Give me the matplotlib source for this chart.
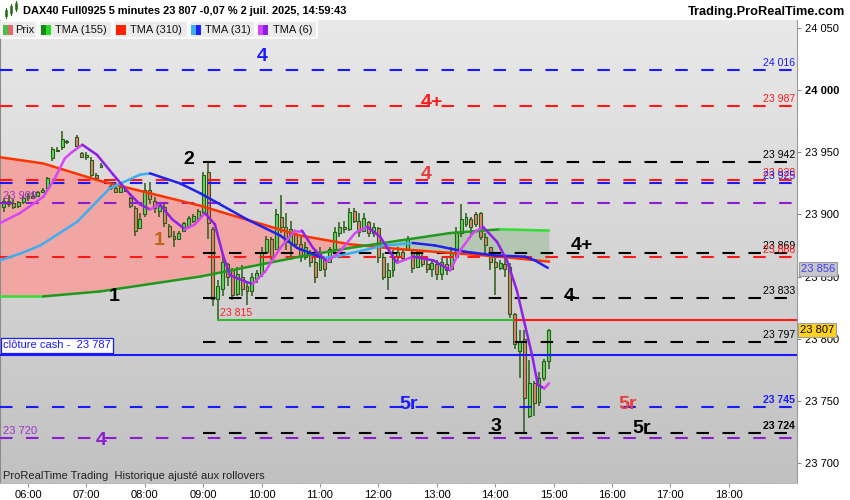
import numpy as np
import matplotlib
matplotlib.use('Agg')
import matplotlib.pyplot as plt
import matplotlib.transforms as mtransforms
from matplotlib.patches import Rectangle
from matplotlib.collections import LineCollection
from matplotlib.colors import LinearSegmentedColormap

plt.rcParams['font.family'] = ['Liberation Sans', 'DejaVu Sans']
plt.rcParams['lines.scale_dashes'] = False

# ---------------- data ----------------
bar_times = ["05:35", "05:40", "05:45", "05:50", "05:55", "06:00", "06:05", "06:10", "06:15", "06:20",
             "06:25", "06:30", "06:35", "06:40", "06:50", "06:55", "07:00", "07:05", "07:10", "07:15",
             "07:25", "07:30", "07:35", "07:40", "07:45", "07:50", "07:55", "08:00", "08:05", "08:10",
             "08:15", "08:20", "08:25", "08:30", "08:35", "08:40", "08:45", "08:50", "08:55", "09:00",
             "09:05", "09:10", "09:15", "09:20", "09:25", "09:30", "09:35", "09:40", "09:45", "09:50",
             "09:55", "10:00", "10:05", "10:10", "10:15", "10:20", "10:25", "10:30", "10:35", "10:40",
             "10:45", "10:50", "10:55", "11:00", "11:05", "11:10", "11:15", "11:20", "11:25", "11:30",
             "11:35", "11:40", "11:45", "11:50", "11:55", "12:00", "12:05", "12:10", "12:15", "12:20",
             "12:25", "12:30", "12:35", "12:40", "12:45", "12:50", "12:55", "13:00", "13:05", "13:10",
             "13:15", "13:20", "13:25", "13:30", "13:35", "13:40", "13:45", "13:50", "13:55", "14:00",
             "14:05", "14:10", "14:15", "14:20", "14:25", "14:30", "14:35", "14:40", "14:45", "14:50",
             "14:55"]
bar_open = [23906, 23911, 23909, 23907, 23910, 23913, 23915, 23915, 23918, 23921,
            23945, 23952, 23954, 23958, 23962, 23949, 23946, 23944, 23932, 23938,
            23923, 23921, 23918, 23920, 23913, 23905, 23889, 23900, 23920, 23911,
            23903, 23906, 23891, 23883, 23880, 23887, 23891, 23895, 23897, 23902,
            23934, 23888, 23832, 23840, 23860, 23855, 23836, 23850, 23842, 23838,
            23848, 23852, 23870, 23880, 23872, 23898, 23890, 23878, 23884, 23876,
            23866, 23870, 23862, 23855, 23866, 23862, 23872, 23885, 23890, 23888,
            23903, 23895, 23887, 23894, 23885, 23889, 23866, 23850, 23855, 23866,
            23870, 23872, 23870, 23858, 23866, 23860, 23856, 23860, 23852, 23860,
            23856, 23866, 23885, 23892, 23896, 23900, 23901, 23882, 23874, 23862,
            23857, 23860, 23858, 23820, 23790, 23800, 23738, 23764, 23749, 23768,
            23782]
bar_high = [23913, 23916, 23912, 23911, 23915, 23917, 23918, 23919, 23921, 23930,
            23954, 23954, 23967, 23960, 23964, 23950, 23950, 23946, 23933, 23941,
            23924, 23922, 23923, 23921, 23914, 23907, 23901, 23925, 23926, 23914,
            23909, 23908, 23892, 23887, 23887, 23894, 23899, 23900, 23904, 23934,
            23943, 23890, 23847, 23867, 23861, 23857, 23858, 23859, 23845, 23853,
            23855, 23874, 23883, 23882, 23904, 23916, 23901, 23895, 23885, 23882,
            23878, 23871, 23871, 23874, 23866, 23874, 23890, 23894, 23895, 23905,
            23905, 23901, 23901, 23895, 23893, 23890, 23869, 23861, 23871, 23874,
            23871, 23883, 23871, 23871, 23869, 23866, 23863, 23863, 23865, 23866,
            23874, 23890, 23908, 23901, 23898, 23902, 23902, 23885, 23874, 23869,
            23863, 23866, 23861, 23821, 23807, 23807, 23783, 23766, 23773, 23784,
            23808]
bar_low = [23902, 23906, 23904, 23905, 23908, 23911, 23912, 23914, 23917, 23920,
           23943, 23950, 23952, 23957, 23954, 23945, 23944, 23930, 23927, 23937,
           23920, 23917, 23917, 23918, 23905, 23883, 23888, 23898, 23908, 23901,
           23898, 23890, 23881, 23874, 23879, 23886, 23889, 23893, 23895, 23900,
           23880, 23826, 23815, 23834, 23842, 23831, 23834, 23834, 23827, 23834,
           23845, 23850, 23869, 23863, 23871, 23885, 23871, 23863, 23874, 23862,
           23863, 23858, 23845, 23855, 23850, 23862, 23871, 23882, 23885, 23887,
           23893, 23882, 23887, 23882, 23882, 23861, 23847, 23839, 23850, 23861,
           23863, 23871, 23853, 23858, 23858, 23853, 23850, 23847, 23847, 23851,
           23855, 23863, 23882, 23890, 23882, 23890, 23879, 23869, 23855, 23835,
           23855, 23850, 23817, 23792, 23768, 23724, 23736, 23738, 23746, 23766,
           23776]
bar_close = [23911, 23908, 23906, 23910, 23913, 23915, 23913, 23918, 23920, 23929,
             23953, 23951, 23961, 23959, 23955, 23946, 23948, 23932, 23929, 23940,
             23921, 23918, 23922, 23919, 23907, 23887, 23896, 23920, 23912, 23905,
             23907, 23893, 23883, 23880, 23885, 23893, 23897, 23899, 23903, 23932,
             23893, 23832, 23842, 23862, 23850, 23835, 23852, 23840, 23838, 23850,
             23853, 23870, 23880, 23866, 23900, 23890, 23878, 23888, 23876, 23866,
             23874, 23862, 23850, 23868, 23856, 23872, 23886, 23890, 23888, 23902,
             23895, 23886, 23897, 23885, 23890, 23866, 23850, 23855, 23866, 23870,
             23865, 23880, 23857, 23868, 23860, 23856, 23861, 23852, 23862, 23855,
             23870, 23886, 23896, 23898, 23890, 23892, 23882, 23875, 23862, 23858,
             23861, 23856, 23820, 23796, 23798, 23752, 23764, 23748, 23768, 23782,
             23807]

# moving averages (hours, price)
slow_times = [5.52, 6.26, 7.23, 8.09, 8.95, 9.80, 10.66, 11.51, 12.37, 13.23, 14.08, 14.92]
tma155 = [23834, 23834, 23838, 23844, 23850, 23858, 23866, 23873, 23879, 23885, 23888, 23887]
tma310 = [23946, 23941, 23927, 23917, 23907, 23895, 23883, 23876, 23872, 23869, 23866, 23862]

tma31_times = [5.52, 5.90, 6.21, 6.84, 7.40, 7.92, 8.09, 8.60, 8.95, 9.75, 10.32, 10.61, 11.05,
               11.26, 12.11, 12.59, 12.97, 13.48, 14.00, 14.51, 14.68, 14.90]
tma31 = [23863, 23869, 23875, 23894, 23921, 23932, 23933, 23925, 23917, 23896, 23883, 23873, 23865,
         23866, 23875, 23877, 23875, 23870, 23867, 23866, 23863, 23857]

tma6_times = [5.52, 5.86, 6.26, 6.46, 6.63, 6.75, 6.93, 7.18, 7.46, 7.75, 7.92, 8.09, 8.26, 8.47,
              8.69, 8.86, 9.03, 9.20, 9.34, 9.46, 9.72, 9.85, 10.06, 10.32, 10.57, 10.69, 10.88,
              11.12, 11.34, 11.60, 11.81, 12.03, 12.32, 12.59, 12.94, 13.23, 13.40, 13.62, 13.79,
              14.03, 14.20, 14.37, 14.51, 14.63, 14.73, 14.84, 14.92]
tma6 = [23893, 23901, 23914, 23929, 23945, 23950, 23956, 23948, 23932, 23916, 23908, 23904, 23908,
        23896, 23888, 23892, 23901, 23892, 23867, 23851, 23846, 23844, 23854, 23873, 23887, 23887,
        23873, 23862, 23870, 23885, 23890, 23882, 23861, 23866, 23863, 23855, 23871, 23885, 23890,
        23878, 23863, 23839, 23811, 23787, 23763, 23760, 23764]

# horizontal levels
level_values = [24016, 23987, 23942, 23928, 23925, 23909, 23869, 23866, 23833, 23797, 23745, 23724, 23720]
level_kinds = ['blue', 'red', 'black', 'red', 'blue', 'purple', 'black', 'red', 'black', 'black', 'blue', 'black', 'purple']
cash_close = 23787
day_low = 23815
day_low_time = "09:15"
day_low_break = "14:20"
last_price = 23807
tma31_last = 23856

y_ticks = [23700, 23750, 23800, 23850, 23900, 23950, 24000, 24050]
x_ticks = list(range(6, 19))

# annotation marks (text, colour key, time, price)
marks = [("4", 'blue', 10.01, 24027), ("4+", 'red', 12.92, 23990), ("2", 'black', 8.76, 23944),
         ("4", 'red2', 12.82, 23932), ("1", 'brown', 8.24, 23879), ("1", 'black', 7.47, 23834),
         ("4+", 'black', 15.49, 23875), ("4", 'black', 15.26, 23834), ("5r", 'blue', 12.51, 23747),
         ("5r", 'red2', 16.26, 23747), ("3", 'black', 14.01, 23729), ("5r", 'black', 16.51, 23728),
         ("4", 'purple', 7.25, 23718)]

# ---------------- styles ----------------
COL = {'blue': '#1a1aff', 'red': '#ff1a1a', 'black': '#000000', 'purple': '#8b1ecf',
       'red2': '#e83c3c', 'brown': '#b8651a'}
W, H = 850, 500
X0, X1 = 5.5205, 19.1678
Y0, Y1 = 23683.9, 24056.4


def hrs(t):
    h, m = t.split(':')
    return int(h) + int(m) / 60.0


def fmt(v):
    return f"{v:,}".replace(',', ' ')


fig = plt.figure(figsize=(8.5, 5), dpi=100)
fig.patch.set_facecolor('white')
ax = fig.add_axes([0, 17 / H, 797 / W, 463 / H])
ax.set_xlim(X0, X1)
ax.set_ylim(Y0, Y1)

# background gradient
cm = LinearSegmentedColormap.from_list('bg', ['#e9e9e9', '#c1c1c1'])
grad = np.linspace(0, 1, 256).reshape(-1, 1)
ax.imshow(grad, cmap=cm, aspect='auto', extent=(X0, X1, Y0, Y1), origin='upper', zorder=0)

# fill between TMA155 and TMA310
st = np.array(slow_times)
g = np.array(tma155)
r = np.array(tma310)
ax.fill_between(st, r, g, where=r >= g, interpolate=True, color='#f2a6a4', lw=0, zorder=1)
ax.fill_between(st, r, g, where=r < g, interpolate=True, color='#b5c7b3', lw=0, zorder=1)

# candles
bx = np.array([hrs(t) for t in bar_times])
o = np.array(bar_open); hi = np.array(bar_high); lo = np.array(bar_low); c = np.array(bar_close)
edge = '#2a5c1a'
ax.vlines(bx, lo, hi, color=edge, lw=1.1, zorder=2)
bottoms = np.minimum(o, c)
heights = np.maximum(np.abs(c - o), 0.7)
cols = np.where(c >= o, '#5fd65a', '#e8806e')
ax.bar(bx, heights, bottom=bottoms, width=0.05, color=cols, edgecolor=edge, lw=0.8, zorder=3)

# dashed levels
for v, k in zip(level_values, level_kinds):
    start = 9.0 if k == 'black' else X0
    ax.plot([start, X1], [v, v], color=COL[k], lw=1.5, dashes=(9.0, 9.7), zorder=4,
            solid_capstyle='butt', dash_capstyle='butt')

# solid levels
ax.plot([X0, X1], [cash_close, cash_close], color='#1a1aff', lw=1.5, zorder=4)
ax.plot([hrs(day_low_time), hrs(day_low_break)], [day_low, day_low], color='#33b833', lw=1.5, zorder=4)
ax.plot([hrs(day_low_break), X1], [day_low, day_low], color='#ff1a1a', lw=1.5, zorder=4)

# moving averages
def colored_line(xs, ys, up, down, lw=1.6):
    xs = np.asarray(xs); ys = np.asarray(ys)
    pts = np.column_stack([xs, ys]).reshape(-1, 1, 2)
    segs = np.concatenate([pts[:-1], pts[1:]], axis=1)
    colors = [up if ys[i + 1] >= ys[i] else down for i in range(len(ys) - 1)]
    lc = LineCollection(segs, colors=colors, linewidths=lw, zorder=5, capstyle='round', joinstyle='round')
    ax.add_collection(lc)

ax.plot(st, r, color='#ff3300', lw=1.8, zorder=5)
gcols = ['#33dd33' if (st[i + 1] <= 6.3 or st[i] >= 14.0) else '#1f9a1f' for i in range(len(st) - 1)]
gsegs = [[(st[i], g[i]), (st[i + 1], g[i + 1])] for i in range(len(st) - 1)]
ax.add_collection(LineCollection(gsegs, colors=gcols, linewidths=1.8, zorder=5, capstyle='round'))
colored_line(tma31_times, tma31, '#3caef0', '#2222ee', lw=1.8)
colored_line(tma6_times, tma6, '#d646f2', '#9020e6', lw=1.8)

# level labels (right)
blend = mtransforms.blended_transform_factory(ax.transAxes, ax.transData)
for v, k in zip(level_values, level_kinds):
    if k == 'purple':
        continue
    bold = v in (23745, 23724)
    ax.annotate(fmt(v), xy=(795 / 797, v), xycoords=blend, xytext=(0, 1.5), textcoords='offset points',
                ha='right', va='bottom', fontsize=7.6, color=COL[k],
                fontweight='bold' if bold else 'normal', zorder=7)
for v in [lv for lv, k in zip(level_values, level_kinds) if k == 'purple']:
    ax.annotate(fmt(v), xy=(3 / 797, v), xycoords=blend, xytext=(0, 1.5), textcoords='offset points',
                ha='left', va='bottom', fontsize=8, color='#9932cc', zorder=7)
ax.annotate(fmt(day_low), xy=(9.29, day_low), xytext=(0, 1.5), textcoords='offset points',
            ha='left', va='bottom', fontsize=7.6, color='#ff2020', zorder=7)

# cash close box
ax.annotate("clôture cash -  " + fmt(cash_close), xy=(3 / 797, cash_close), xycoords=blend,
            xytext=(0, 3.2), textcoords='offset points', ha='left', va='bottom', fontsize=8,
            color='#1a1aff', zorder=8,
            bbox=dict(boxstyle='square,pad=0.2', fc='white', ec='#1a1aff', lw=0.9))

# marks
for txt, k, t, p in marks:
    ax.text(t, p, txt, color=COL[k], fontsize=14, fontweight='bold', ha='center', va='center', zorder=8)

# right axis
ax.yaxis.tick_right()
ax.set_yticks(y_ticks)
ax.set_yticklabels([fmt(v) for v in y_ticks], fontsize=8)
for lab, v in zip(ax.get_yticklabels(), y_ticks):
    if v == 24000:
        lab.set_fontweight('bold')
ax.tick_params(axis='y', length=3, width=0.8, color='#888888', pad=3)
ax.set_xticks(x_ticks)
ax.set_xticklabels([f"{h:02d}:00" for h in x_ticks], fontsize=8)
ax.tick_params(axis='x', length=3, width=0.8, color='#999999', pad=2)
ax.spines['top'].set_visible(False)
ax.spines['right'].set_color('#9a9a9a')
ax.spines['bottom'].set_color('#bbbbbb')
ax.spines['left'].set_color('#8a8a8a')

# price boxes
ax.text(801 / 797, tma31_last, fmt(tma31_last), transform=blend, ha='left', va='center', fontsize=8,
        color='#3a3aff', clip_on=False, zorder=9,
        bbox=dict(boxstyle='square,pad=0.15', fc='#c6c6c6', ec='#9999aa', lw=0.8))
ax.text(800 / 797, last_price, fmt(last_price), transform=blend, ha='left', va='center', fontsize=8,
        color='black', clip_on=False, zorder=9,
        bbox=dict(boxstyle='square,pad=0.15', fc='#ffd21f', ec='#a0a0a0', lw=0.8))

# bottom text
ax.text(3 / 797, 7 / 463, "ProRealTime Trading  Historique ajusté aux rollovers", transform=ax.transAxes,
        ha='left', va='center', fontsize=8, color='#222222', zorder=9)

# ---------- header ----------
def fx(x):
    return x / W


def fy(y):
    return 1 - y / H


# title icon
for (x, yt, yb, wt, wb) in [(5, 10, 16, 8, 18), (10, 6, 13, 4, 15), (15, 3, 9, 1, 11)]:
    fig.add_artist(plt.Line2D([fx(x + 1), fx(x + 1)], [fy(wt), fy(wb)], color='#2a6a1a', lw=0.8))
    fig.add_artist(Rectangle((fx(x), fy(yb)), 2 / W, (yb - yt) / H, transform=fig.transFigure,
                             fc='#55cc44', ec='#2a6a1a', lw=0.5))
fig.text(fx(23), fy(11.5), "DAX40 Full0925 5 minutes 23 807 -0,07 % 2 juil. 2025, 14:59:43",
         fontsize=7.9, fontweight='bold', ha='left', va='center', color='black')
fig.text(fx(845), fy(11.5), "Trading.ProRealTime.com", fontsize=9.2, fontweight='bold',
         ha='right', va='center', color='black')

# legend row
cells = [(1, 37), (39, 112), (114, 188), (190, 255), (257, 317)]
for a, b in cells:
    fig.add_artist(Rectangle((fx(a), fy(38)), (b - a) / W, 17 / H, transform=fig.transFigure,
                             fc='#ebebeb', ec='white', lw=1.2, zorder=10))
swatches = [(3, '#4cc04c', '#e06a6a'), (41, '#138a13', '#22dd22'), (116, '#ff2200', '#ff2200'),
            (191, '#3caef0', '#2020ff'), (258, '#d646f2', '#8a20e8')]
for x, c1, c2 in swatches:
    fig.add_artist(Rectangle((fx(x), fy(35)), 5 / W, 10 / H, transform=fig.transFigure,
                             fc=c1, ec='none', zorder=11))
    fig.add_artist(Rectangle((fx(x + 5), fy(35)), 5 / W, 10 / H, transform=fig.transFigure,
                             fc=c2, ec='none', zorder=11))
leg_texts = [(15, "Prix"), (55, "TMA (155)"), (130, "TMA (310)"), (205, "TMA (31)"), (273, "TMA (6)")]
for x, t in leg_texts:
    fig.text(fx(x), fy(30), t, fontsize=8, ha='left', va='center', color='#111111', zorder=12)

fig.savefig('out.png', dpi=100, facecolor='white')
